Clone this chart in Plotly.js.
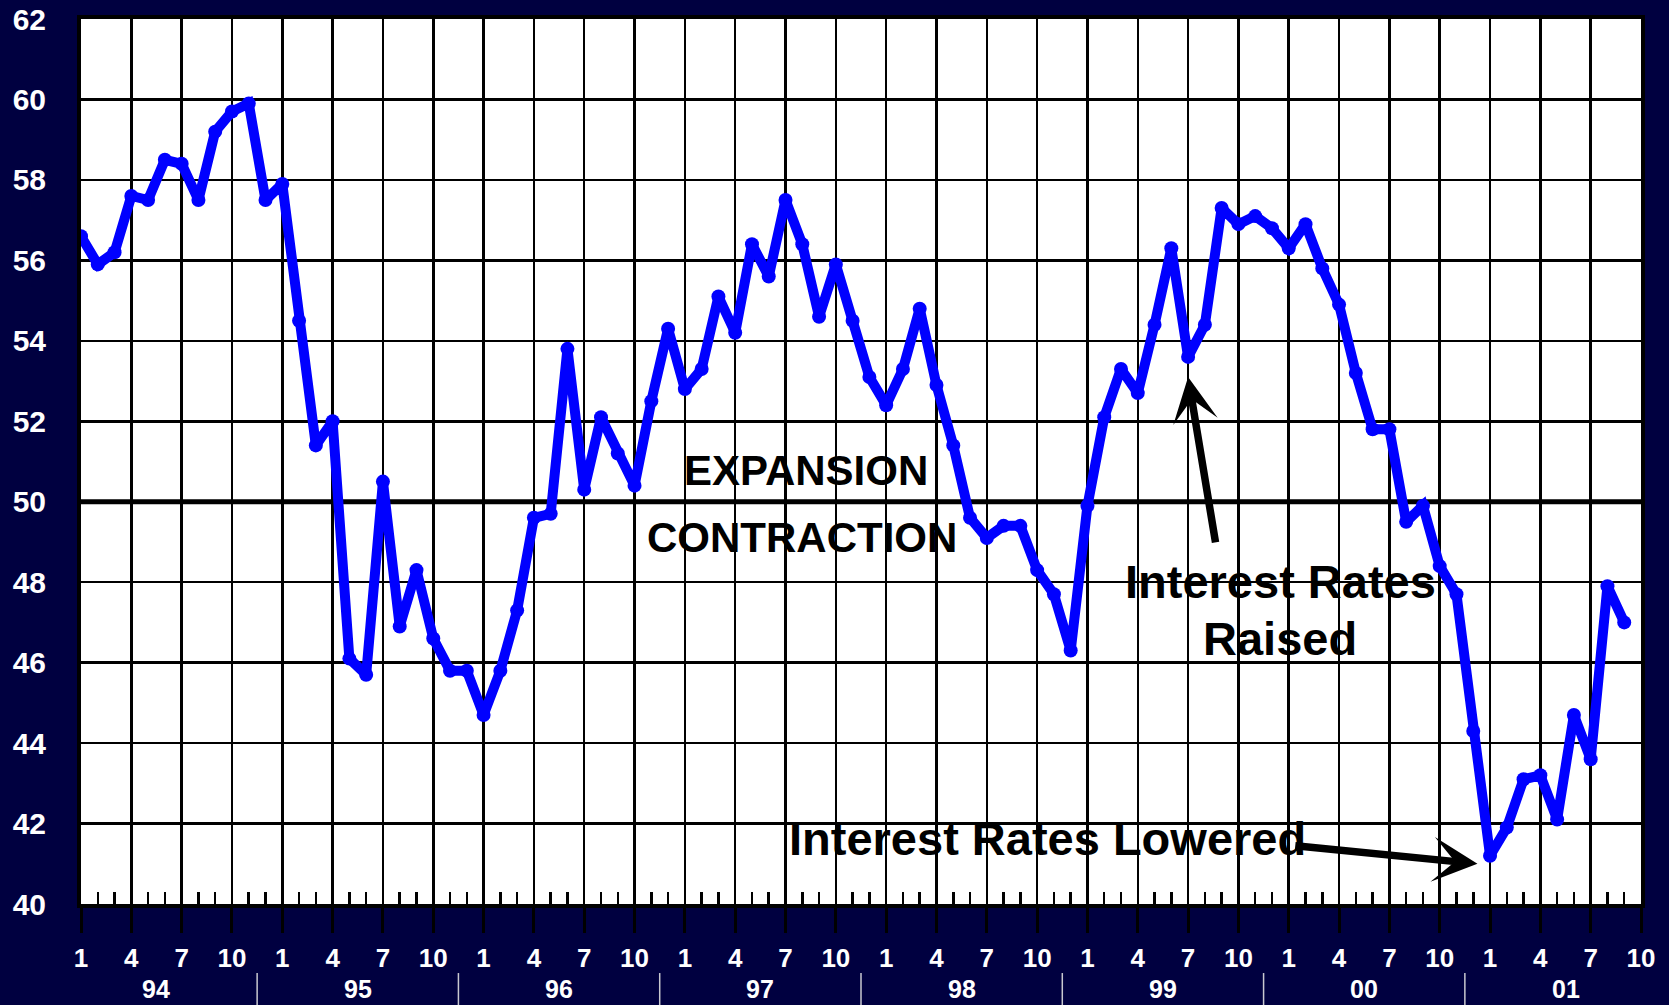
<!DOCTYPE html>
<html>
<head>
<meta charset="utf-8">
<script src="https://cdn.plot.ly/plotly-3.0.1.min.js"></script>
<style>
html,body{margin:0;padding:0;background:#000040;}
#chart{width:1669px;height:1005px;}
</style>
</head>
<body>
<div id="chart"></div>
<script>
// Monthly index values, Jan 1994 .. Sep 2001
const pmi1994 = [56.6, 55.9, 56.2, 57.6, 57.5, 58.5, 58.4, 57.5, 59.2, 59.7, 59.9, 57.5];
const pmi1995 = [57.9, 54.5, 51.4, 52.0, 46.1, 45.7, 50.5, 46.9, 48.3, 46.6, 45.8, 45.8];
const pmi1996 = [44.7, 45.8, 47.3, 49.6, 49.7, 53.8, 50.3, 52.1, 51.2, 50.4, 52.5, 54.3];
const pmi1997 = [52.8, 53.3, 55.1, 54.2, 56.4, 55.6, 57.5, 56.4, 54.6, 55.9, 54.5, 53.1];
const pmi1998 = [52.4, 53.3, 54.8, 52.9, 51.4, 49.6, 49.1, 49.4, 49.4, 48.3, 47.7, 46.3];
const pmi1999 = [49.9, 52.1, 53.3, 52.7, 54.4, 56.3, 53.6, 54.4, 57.3, 56.9, 57.1, 56.8];
const pmi2000 = [56.3, 56.9, 55.8, 54.9, 53.2, 51.8, 51.8, 49.5, 49.9, 48.4, 47.7, 44.3];
const pmi2001 = [41.2, 41.9, 43.1, 43.2, 42.1, 44.7, 43.6, 47.9, 47.0];

const yearLabels = ['94', '95', '96', '97', '98', '99', '00', '01'];
const monthTickLabels = ['1', '4', '7', '10'];
const yTickValues = [40, 42, 44, 46, 48, 50, 52, 54, 56, 58, 60, 62];

const annotationTexts = {
  expansion: 'EXPANSION',
  contraction: 'CONTRACTION',
  raised1: 'Interest Rates',
  raised2: 'Raised',
  lowered: 'Interest Rates Lowered'
};

// ---- build ----
const series = [].concat(pmi1994, pmi1995, pmi1996, pmi1997, pmi1998, pmi1999, pmi2000, pmi2001);
const xIdx = series.map((_, i) => i);
const lastIdx = (yearLabels.length - 1) * 12 + 9;

const tickVals = [], tickText = [];
for (let m = 0; m <= lastIdx; m += 3) {
  tickVals.push(m);
  tickText.push(monthTickLabels[(m % 12) / 3]);
}
const minorVals = [];
for (let m = 0; m <= lastIdx; m++) if (m % 3 !== 0) minorVals.push(m);

const FONT = 'Liberation Sans, Arial, sans-serif';
const NAVY = '#000040';

const shapes = [];
const annotations = [];

// thick 50 line
shapes.push({type:'line', xref:'paper', yref:'y', x0:0, x1:1, y0:50, y1:50,
  line:{color:'black', width:5}, layer:'below'});

// year separators and labels
yearLabels.forEach((lab, k) => {
  if (k > 0) {
    shapes.push({type:'line', xref:'x', yref:'paper', x0:k*12-1.5, x1:k*12-1.5,
      y0:-0.078, y1:-0.12, line:{color:'#c8c8d0', width:1.5}});
  }
  annotations.push({xref:'x', yref:'paper', x:k*12+4.5, y:-0.096, text:lab,
    showarrow:false, xanchor:'center', yanchor:'middle', borderpad:0,
    font:{family:FONT, size:25, color:'white', weight:'bold'}});
});

const textFont = (s) => ({family:FONT, size:s, color:'black', weight:'bold'});
annotations.push({xref:'x', yref:'y', x:43.25, y:50.77, text:annotationTexts.expansion,
  showarrow:false, xanchor:'center', yanchor:'middle', font:textFont(42)});
annotations.push({xref:'x', yref:'y', x:43.0, y:49.11, text:annotationTexts.contraction,
  showarrow:false, xanchor:'center', yanchor:'middle', font:textFont(42)});
annotations.push({xref:'x', yref:'y', x:71.5, y:48.02, text:annotationTexts.raised1,
  showarrow:false, xanchor:'center', yanchor:'middle', font:textFont(47)});
annotations.push({xref:'x', yref:'y', x:71.5, y:46.6, text:annotationTexts.raised2,
  showarrow:false, xanchor:'center', yanchor:'middle', font:textFont(47)});
annotations.push({xref:'x', yref:'y', x:57.6, y:41.62, text:annotationTexts.lowered,
  showarrow:false, xanchor:'center', yanchor:'middle', font:textFont(47)});

// arrows
const raisedIdx = 5*12 + 6;   // Jul 99
const loweredIdx = 7*12 + 0;  // Jan 01
annotations.push({xref:'x', yref:'y', axref:'x', ayref:'y',
  x:raisedIdx, y:53.1, ax:raisedIdx+1.65, ay:48.95, text:'', showarrow:true,
  arrowhead:3, arrowsize:1, arrowwidth:7.5, arrowcolor:'black', standoff:0, startstandoff:0});
annotations.push({xref:'x', yref:'y', axref:'x', ayref:'y',
  x:loweredIdx-0.75, y:41.0, ax:loweredIdx-11.7, ay:41.45, text:'', showarrow:true,
  arrowhead:3, arrowsize:1, arrowwidth:7.5, arrowcolor:'black', standoff:0, startstandoff:0});

const trace = {
  x: xIdx, y: series, type:'scatter', mode:'lines+markers',
  line:{color:'#0000ff', width:10},
  marker:{color:'#0000ff', size:14},
  hoverinfo:'skip'
};

const layout = {
  width:1669, height:1005,
  paper_bgcolor:NAVY, plot_bgcolor:'white',
  margin:{l:81, r:28, t:19, b:101},
  showlegend:false,
  xaxis:{
    range:[0, lastIdx], tickmode:'array', tickvals:tickVals, ticktext:tickText,
    showgrid:true, gridcolor:'black', gridwidth:2.5,
    ticks:'outside', ticklen:25, tickwidth:3, tickcolor:'black',
    minor:{tickmode:'array', tickvals:minorVals, ticks:'inside', ticklen:12, tickwidth:2.5, tickcolor:'black', showgrid:false},
    showline:true, linecolor:'black', linewidth:4, mirror:true,
    zeroline:false, fixedrange:true,
    ticklabelstandoff:3,
    tickfont:{family:FONT, size:26, color:'white', weight:'bold'}
  },
  yaxis:{
    range:[40, 62], tickmode:'array', tickvals:yTickValues, ticktext:yTickValues.map(String),
    showgrid:true, gridcolor:'black', gridwidth:2.5,
    ticks:'', showline:true, linecolor:'black', linewidth:4, mirror:true,
    zeroline:false, fixedrange:true,
    ticklabelstandoff:25,
    tickfont:{family:FONT, size:30, color:'white', weight:'bold'}
  },
  shapes:shapes,
  annotations:annotations
};

Plotly.newPlot('chart', [trace], layout, {staticPlot:true, displayModeBar:false});
</script>
</body>
</html>
